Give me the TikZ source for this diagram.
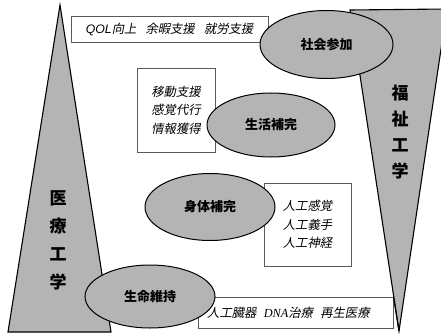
\documentclass[tikz,border=0pt]{standalone}
\usepackage{fontspec}
\usetikzlibrary{shapes.geometric}
\newfontfamily\cjk{Noto Sans CJK JP}
\newfontfamily\cjkit[FakeSlant=0.2]{Noto Sans CJK JP}
\newfontfamily\latit{Liberation Sans Italic}
\newfontfamily\serit{Liberation Serif Italic}
\definecolor{fillgray}{RGB}{180,180,180}
\definecolor{boxline}{RGB}{90,90,90}
\tikzset{
  pillar/.style={draw=black, line width=1.1pt, fill=fillgray, line join=miter},
  blob/.style={ellipse, draw=black, line width=1pt, fill=fillgray, inner sep=0pt,
    font=\cjk\bfseries\fontsize{13}{15}\selectfont},
  notebox/.style={rectangle, draw=boxline, line width=0.6pt, fill=white, inner sep=0pt,
    align=center, font=\cjkit\fontsize{12.3}{18.5}\selectfont},
  pillartext/.style={align=center, inner sep=0pt}
}
\begin{document}
\begin{tikzpicture}[x=1pt, y=-1pt]
\clip (0,0) rectangle (441,334);
\fill[white] (0,0) rectangle (441,334);
% pillars
\draw[pillar] (60,5) -- (111,332) -- (8,332) -- cycle;
\draw[pillar] (350,10) -- (447,9) -- (399,331) -- cycle;
\node[pillartext, font=\cjk\bfseries\fontsize{17}{28}\selectfont] (med) at (58,240) {医\\療\\工\\学};
\node[pillartext, font=\cjk\bfseries\fontsize{17}{26}\selectfont] (wel) at (400,132) {福\\祉\\工\\学};
% boxes
\node[notebox, minimum width=197pt, minimum height=26pt] (qol) at (169.5,29)
  {{\latit QOL}向上\hspace{0.75em}余暇支援\hspace{0.75em}就労支援};
\node[notebox, minimum width=78pt, minimum height=84pt] (mob) at (176,110)
  {移動支援\\感覚代行\\情報獲得};
\node[notebox, minimum width=87pt, minimum height=83pt] (art) at (307.5,224.5)
  {人工感覚\\人工義手\\人工神経};
\node[notebox, minimum width=195pt, minimum height=31pt] (org) at (295.5,312.5) {};
\node[anchor=west, inner sep=0pt, font=\cjkit\fontsize{12.3}{15}\selectfont] (orgtext) at (207,313)
  {人工臓器\hspace{0.6em}{\serit DNA}治療\hspace{0.6em}再生医療};
% right pillar edge over bottom box
\draw[line width=1.1pt] (393.5,297) -- (399,331);
% ellipses
\node[blob, minimum width=133pt, minimum height=68pt] (soc) at (326.5,44.5) {社会参加};
\node[blob, minimum width=128pt, minimum height=64pt] (life) at (271,125) {生活補完};
\node[blob, minimum width=130pt, minimum height=67pt] (body) at (210,207) {身体補完};
\node[blob, minimum width=130pt, minimum height=63pt] (vital) at (150,296.5) {生命維持};
\end{tikzpicture}
\end{document}
